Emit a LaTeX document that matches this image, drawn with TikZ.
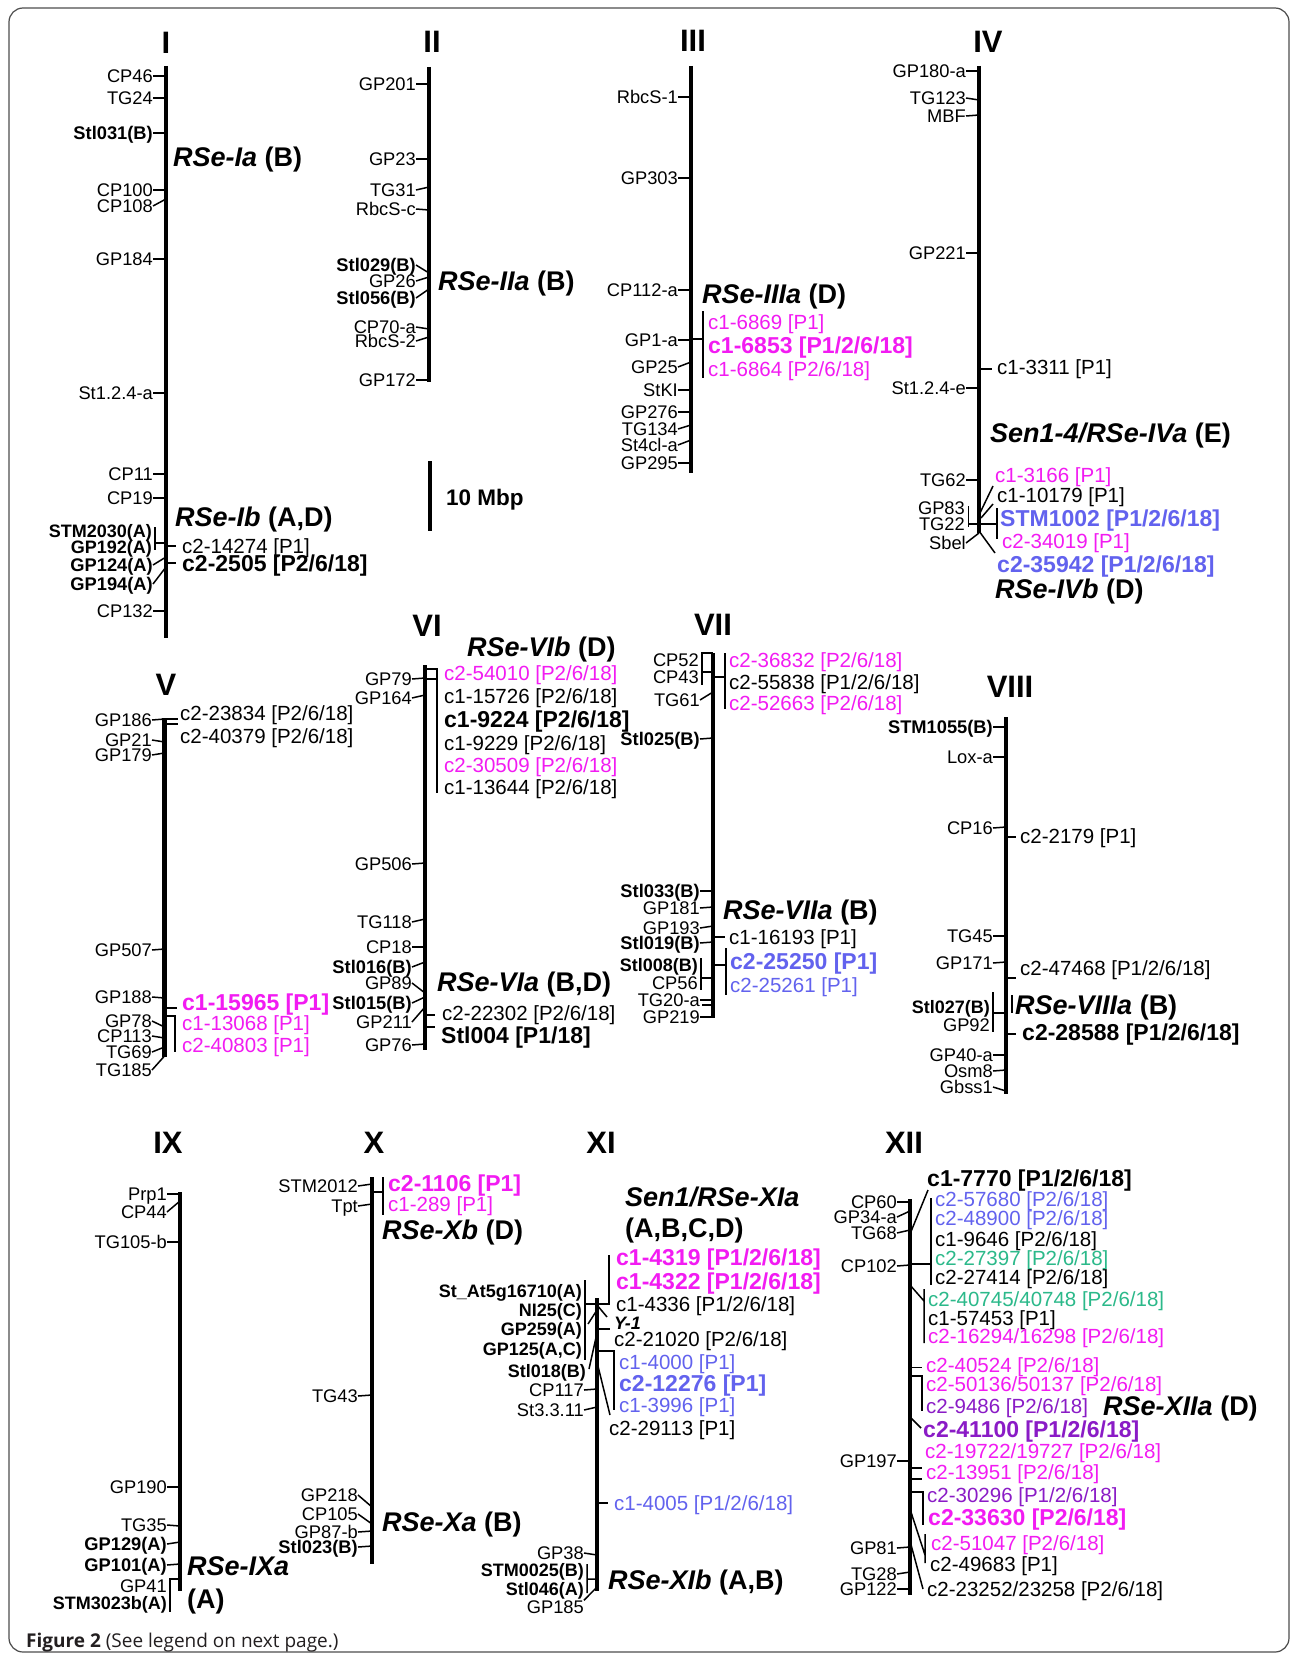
\documentclass[tikz,border=0pt]{standalone}
\usepackage{fontspec}
\setmainfont{Liberation Sans}
\newfontfamily\capfont{Open Sans}
\usepackage{xcolor}
\usepackage{tikz}
\definecolor{mkMag}{HTML}{F21BF2}
\definecolor{mkBlue}{HTML}{6262EE}
\definecolor{mkGreen}{HTML}{2BB98A}
\definecolor{mkPurple}{HTML}{8A1BC6}
\definecolor{frameGray}{HTML}{4D4D4D}
\definecolor{capGray}{HTML}{231F20}
\tikzset{
  chrom/.style={line width=4.2pt},
  tk/.style={line width=1.5pt},
  lm/.style={anchor=east, inner sep=0pt, font=\fontsize{18.3}{18.3}\selectfont, text height=13.1pt, text depth=0pt},
  lmb/.style={lm, font=\fontsize{18}{18}\selectfont\bfseries},
  rm/.style={anchor=west, inner sep=0pt, font=\fontsize{20.5}{20.5}\selectfont, text height=14.7pt, text depth=0pt},
  rb/.style={rm, font=\fontsize{23}{23}\selectfont\bfseries, text height=16.5pt},
  qtl/.style={anchor=west, inner sep=0pt, font=\fontsize{27}{27}\selectfont\bfseries, text height=19.3pt, text depth=0pt},
  chrname/.style={inner sep=0pt, font=\fontsize{31}{31}\selectfont\bfseries, text height=22.2pt, text depth=0pt},
  mag/.style={text=mkMag}, blu/.style={text=mkBlue}, grn/.style={text=mkGreen}, pur/.style={text=mkPurple},
}
\begin{document}
\begin{tikzpicture}[x=1pt, y=-1pt,
  sbar/.style={anchor=west, inner sep=0pt, font=\fontsize{22.5}{22.5}\selectfont\bfseries, text height=16.1pt, text depth=0pt},
  capt/.style={anchor=west, inner sep=0pt, font=\capfont\fontsize{19}{19}\selectfont, text=capGray, text height=13.6pt, text depth=0pt}]
\useasboundingbox (0,0) rectangle (1295,1659);
\fill[white] (0,0) rectangle (1295,1659);
\draw[frameGray, line width=1.2pt, rounded corners=14pt] (9,8) rectangle (1289,1652);

% chromosome I
\coordinate (c1t) at (166,66); \coordinate (c1b) at (166,638);
\draw[chrom] (c1t) -- (c1b);
\node[chrname] (n1) at (166,42) {I};
\foreach \t/\ly/\ty [count=\i] in {CP46/76/76, TG24/98/98, {\bfseries Stl031(B)}/133/133,
  CP100/190/190, CP108/206/199, GP184/259/259, St1.2.4-a/393/393, CP11/474/474, CP19/498/498,
  {\bfseries GP124(A)}/565/557, {\bfseries GP194(A)}/584/567, CP132/611/611}
  {\node[lm] (c1m\i) at (153,\ly) {\t}; \draw[tk] (c1m\i.east) -- (c1t |- 0,\ty);}
\node[lmb] (c1s) at (152,531) {STM2030(A)};
\node[lmb] (c1g) at (152,547) {GP192(A)};
\draw[tk] (155,527) -- (155,550) (155,543) -- (c1t |- 0,543);
\node[qtl] (q1a) at (173,157) {\textit{RSe-Ia} (B)};
\node[qtl] (q1b) at (175,517) {\textit{RSe-Ib} (A,D)};
\node[rm] (r1a) at (182,546) {c2-14274 [P1]};
\node[rb] (r1b) at (182,563) {c2-2505 [P2/6/18]};
\foreach \n in {r1a,r1b} \draw[tk] (c1t |- \n.west) -- ++(10,0);

% chromosome II
\coordinate (c2t) at (429,67); \coordinate (c2b) at (429,382);
\draw[chrom] (c2t) -- (c2b);
\node[chrname] (n2) at (432,41) {II};
\foreach \t/\ly/\ty [count=\i] in {GP201/84/84, GP23/159/159, TG31/190/187, RbcS-c/209/210,
  {\bfseries Stl029(B)}/265/273, GP26/281/277, {\bfseries Stl056(B)}/298/289, CP70-a/327/329,
  RbcS-2/341/337, GP172/380/380}
  {\node[lm] (c2m\i) at (416,\ly) {\t}; \draw[tk] (c2m\i.east) -- (c2t |- 0,\ty);}
\node[qtl] (q2a) at (438,281) {\textit{RSe-IIa} (B)};
% scale bar
\coordinate (sb1) at (430,461); \coordinate (sb2) at (430,531);
\draw[chrom] (sb1) -- (sb2);
\node[sbar] (sbl) at (446,497) {10 Mbp};

% chromosome III
\coordinate (c3t) at (691,66); \coordinate (c3b) at (691,473);
\draw[chrom] (c3t) -- (c3b);
\node[chrname] (n3) at (693,40) {III};
\foreach \t/\ly/\ty [count=\i] in {RbcS-1/97/97, GP303/178/178, CP112-a/290/290, GP1-a/340/340,
  GP25/367/362, StKI/390/390, GP276/412/412, TG134/429/425, St4cl-a/445/440, GP295/463/463}
  {\node[lm] (c3m\i) at (678,\ly) {\t}; \draw[tk] (c3m\i.east) -- (c3t |- 0,\ty);}
\node[qtl] (q3a) at (702,294) {\textit{RSe-IIIa} (D)};
\draw[tk] (703,311) -- (703,378) (c3t |- 0,339) -- (703,339);
\node[rm, mag] (r3a) at (708,322) {c1-6869 [P1]};
\node[rb, mag] (r3b) at (708,345) {c1-6853 [P1/2/6/18]};
\node[rm, mag] (r3c) at (708,369) {c1-6864 [P2/6/18]};

% chromosome IV
\coordinate (c4t) at (979,66); \coordinate (c4b) at (979,533);
\draw[chrom] (c4t) -- (c4b);
\node[chrname] (n4) at (988,41) {IV};
\foreach \t/\ly/\ty [count=\i] in {GP180-a/71/71, TG123/98/100, MBF/116/115, GP221/253/253,
  St1.2.4-e/388/388, TG62/480/480, Sbel/543/533}
  {\node[lm] (c4m\i) at (966,\ly) {\t}; \draw[tk] (c4m\i.east) -- (c4t |- 0,\ty);}
\node[lm] (c4g) at (965,508) {GP83};
\node[lm] (c4h) at (965,524) {TG22};
\draw[tk] (968.5,506) -- (968.5,527) (968.5,524) -- (c4t |- 0,524);
\node[rm] (r4a) at (997,367) {c1-3311 [P1]};
\draw[tk] (c4t |- 0,369) -- (992,369);
\node[qtl] (q4a) at (990,433) {\textit{Sen1-4/RSe-IVa} (E)};
\node[rm, mag] (r4b) at (995,475) {c1-3166 [P1]};
\node[rm] (r4c) at (997,495) {c1-10179 [P1]};
\node[rb, blu] (r4d) at (1000,518) {STM1002 [P1/2/6/18]};
\node[rm, mag] (r4e) at (1002,541) {c2-34019 [P1]};
\node[rb, blu] (r4f) at (997,564) {c2-35942 [P1/2/6/18]};
\node[qtl] (q4b) at (995,589) {\textit{RSe-IVb} (D)};
\draw[tk] (c4t |- 0,515) -- (993,486) (981,518) -- (993,504);
\draw[tk] (c4t |- 0,524) -- (997,524) (997,508) -- (997,539);
\draw[tk] (c4t |- 0,531) -- (995,553);

% chromosome V
\coordinate (c5t) at (164.5,718); \coordinate (c5b) at (164.5,1057);
\draw[chrom] (c5t) -- (c5b);
\node[chrname] (n5) at (166,684) {V};
\foreach \t/\ly/\ty [count=\i] in {GP186/720/719, GP21/740/742, GP179/755/753, GP507/950/949,
  GP188/997/998, GP78/1021/1027, CP113/1036/1038, TG69/1052/1047, TG185/1070/1056}
  {\node[lm] (c5m\i) at (152,\ly) {\t}; \draw[tk] (c5m\i.east) -- (c5t |- 0,\ty);}
\draw[tk] (c5t |- 0,719) -- ++(13,0) (c5t |- 0,724) -- ++(13,0);
\node[rm] (r5a) at (180,713) {c2-23834 [P2/6/18]};
\node[rm] (r5b) at (180,736) {c2-40379 [P2/6/18]};
\node[rb, mag] (r5c) at (182,1002) {c1-15965 [P1]};
\draw[tk] (c5t |- 0,1008) -- ++(12,0);
\draw[tk] (c5t |- 0,1016) -- (175,1016) -- (175,1052);
\node[rm, mag] (r5d) at (182,1023) {c1-13068 [P1]};
\node[rm, mag] (r5e) at (182,1045) {c2-40803 [P1]};

% chromosome VI
\coordinate (c6t) at (425,665); \coordinate (c6b) at (425,1050);
\draw[chrom] (c6t) -- (c6b);
\node[chrname] (n6) at (427,625) {VI};
\foreach \t/\ly/\ty [count=\i] in {GP79/679/678, GP164/698/695, GP506/864/863, TG118/922/919,
  CP18/947/947, {\bfseries Stl016(B)}/967/962, GP89/983/993, {\bfseries Stl015(B)}/1003/997,
  GP211/1022/1007, GP76/1045/1044}
  {\node[lm] (c6m\i) at (412,\ly) {\t}; \draw[tk] (c6m\i.east) -- (c6t |- 0,\ty);}
\node[qtl] (q6b) at (467,647) {\textit{RSe-VIb} (D)};
\draw[tk] (c6t |- 0,669) -- (437,669) -- (437,793) (c6t |- 0,679) -- (437,679);
\node[rm, mag] (r6a) at (444,673) {c2-54010 [P2/6/18]};
\node[rm] (r6b) at (444,696) {c1-15726 [P2/6/18]};
\node[rb] (r6c) at (444,719) {c1-9224 [P2/6/18]};
\node[rm] (r6d) at (444,743) {c1-9229 [P2/6/18]};
\node[rm, mag] (r6e) at (444,765) {c2-30509 [P2/6/18]};
\node[rm] (r6f) at (444,787) {c1-13644 [P2/6/18]};
\node[qtl] (q6a) at (437,982) {\textit{RSe-VIa} (B,D)};
\node[rm] (r6g) at (442,1013) {c2-22302 [P2/6/18]};
\draw[tk] (c6t |- 0,1015) -- ++(10,0);
\node[rb] (r6h) at (441,1035) {Stl004 [P1/18]};
\draw[tk] (c6t |- 0,1027) -- ++(10,0);

% chromosome VII
\coordinate (c7t) at (713,653); \coordinate (c7b) at (713,1018);
\draw[chrom] (c7t) -- (c7b);
\node[chrname] (n7) at (713,624) {VII};
\foreach \t/\ly/\ty [count=\i] in {TG61/700/692, {\bfseries Stl025(B)}/739/738,
  {\bfseries Stl033(B)}/891/891, GP181/908/907, GP193/928/926, {\bfseries Stl019(B)}/943/942,
  TG20-a/1000/1000, GP219/1017/1017}
  {\node[lm] (c7m\i) at (700,\ly) {\t}; \draw[tk] (c7m\i.east) -- (c7t |- 0,\ty);}
\node[lm] (c7p) at (699,660) {CP52};
\node[lm] (c7q) at (699,677) {CP43};
\draw[tk] (c7t) -- (702,653) -- (702,685) (702,672) -- (c7t |- 0,672);
\node[lmb] (c7r) at (698,965) {Stl008(B)};
\node[lm] (c7s) at (698,983) {CP56};
\draw[tk] (701,958) -- (701,990) (701,978) -- (c7t |- 0,978) (702,1005) -- (c7t |- 0,1005);
\draw[tk] (725,653) -- (725,709) (c7t |- 0,677) -- (725,677);
\node[rm, mag] (r7a) at (729,660) {c2-36832 [P2/6/18]};
\node[rm] (r7b) at (729,682) {c2-55838 [P1/2/6/18]};
\node[rm, mag] (r7c) at (729,703) {c2-52663 [P2/6/18]};
\node[qtl] (q7a) at (723,910) {\textit{RSe-VIIa} (B)};
\node[rm] (r7d) at (729,937) {c1-16193 [P1]};
\draw[tk] (c7t |- 0,937) -- ++(12,0);
\draw[tk] (726,948) -- (726,995) (c7t |- 0,965) -- (726,965);
\node[rb, blu] (r7e) at (730,961) {c2-25250 [P1]};
\node[rm, blu] (r7f) at (730,985) {c2-25261 [P1]};

% chromosome VIII
\coordinate (c8t) at (1006,717); \coordinate (c8b) at (1006,1094);
\draw[chrom] (c8t) -- (c8b);
\node[chrname] (n8) at (1010,686) {VIII};
\foreach \t/\ly/\ty [count=\i] in {{\bfseries STM1055(B)}/727/727, Lox-a/757/757, CP16/828/827,
  TG45/936/936, GP171/963/962, GP40-a/1055/1055, Osm8/1071/1070, Gbss1/1087/1091}
  {\node[lm] (c8m\i) at (993,\ly) {\t}; \draw[tk] (c8m\i.east) -- (c8t |- 0,\ty);}
\node[lmb] (c8p) at (990,1007) {Stl027(B)};
\node[lm] (c8q) at (990,1025) {GP92};
\draw[tk] (993,992) -- (993,1032) (993,1013) -- (c8t |- 0,1013);
\draw[tk] (1012,995) -- (1012,1013);
\node[rm] (r8a) at (1020,836) {c2-2179 [P1]};
\draw[tk] (c8t |- 0,837) -- ++(10,0);
\node[rm] (r8b) at (1020,968) {c2-47468 [P1/2/6/18]};
\draw[tk] (c8t |- 0,978) -- ++(10,0);
\node[qtl] (q8a) at (1015,1005) {\textit{RSe-VIIIa} (B)};
\node[rb] (r8c) at (1022,1032) {c2-28588 [P1/2/6/18]};
\draw[tk] (c8t |- 0,1034) -- ++(10,0);

% chromosome IX
\coordinate (c9t) at (180,1192); \coordinate (c9b) at (180,1591);
\draw[chrom] (c9t) -- (c9b);
\node[chrname] (n9) at (168,1142) {IX};
\foreach \t/\ly/\ty [count=\i] in {Prp1/1194/1194, CP44/1212/1201, TG105-b/1242/1242,
  GP190/1487/1487, TG35/1525/1526, {\bfseries GP129(A)}/1544/1542, {\bfseries GP101(A)}/1565/1564}
  {\node[lm] (c9m\i) at (167,\ly) {\t}; \draw[tk] (c9m\i.east) -- (c9t |- 0,\ty);}
\node[lm] (c9p) at (167,1586) {GP41};
\node[lmb] (c9q) at (167,1603) {STM3023b(A)};
\draw[tk] (c9t |- 0,1579) -- (170,1579) -- (170,1612);
\node[qtl] (q9a) at (187,1566) {\textit{RSe-IXa}};
\node[qtl] (q9b) at (187,1599) {(A)};

% chromosome X
\coordinate (c10t) at (372,1177); \coordinate (c10b) at (372,1564);
\draw[chrom] (c10t) -- (c10b);
\node[chrname] (n10) at (374,1142) {X};
\foreach \t/\ly/\ty [count=\i] in {STM2012/1186/1184, Tpt/1206/1204, TG43/1396/1395,
  GP218/1495/1507, CP105/1514/1524, GP87-b/1532/1531, {\bfseries Stl023(B)}/1547/1546}
  {\node[lm] (c10m\i) at (358,\ly) {\t}; \draw[tk] (c10m\i.east) -- (c10t |- 0,\ty);}
\draw[tk] (383,1177) -- (383,1215) (c10t |- 0,1192) -- (383,1192);
\node[rb, mag] (r10a) at (388,1183) {c2-1106 [P1]};
\node[rm, mag] (r10b) at (388,1204) {c1-289 [P1]};
\node[qtl] (q10b) at (382,1230) {\textit{RSe-Xb} (D)};
\node[qtl] (q10a) at (382,1522) {\textit{RSe-Xa} (B)};

% chromosome XI
\coordinate (c11t) at (597,1298); \coordinate (c11b) at (597,1591);
\draw[chrom] (c11t) -- (c11b);
\node[chrname] (n11) at (601,1142) {XI};
\foreach \t/\ly [count=\i] in {St\_At5g16710(A)/1291, NI25(C)/1310, GP259(A)/1329, {GP125(A,C)}/1349}
  {\node[lmb] (c11g\i) at (582,\ly) {\t};}
\node[lmb] (c11s) at (586,1371) {Stl018(B)};
\draw[tk] (585,1280) -- (585,1360) (585,1304) -- (c11t |- 0,1304);
\draw[tk] (588,1324) -- (c11t |- 0,1310) (589,1369) -- (c11t |- 0,1333);
\foreach \t/\ly/\ty [count=\i] in {CP117/1390/1389, St3.3.11/1410/1407, GP38/1553/1555}
  {\node[lm] (c11m\i) at (584,\ly) {\t}; \draw[tk] (c11m\i.east) -- (c11t |- 0,\ty);}
\node[lmb] (c11p) at (584,1570) {STM0025(B)};
\node[lmb] (c11q) at (584,1589) {Stl046(A)};
\node[lm] (c11r) at (584,1607) {GP185};
\draw[tk] (587,1564) -- (587,1593) (587,1579) -- (c11t |- 0,1579) (c11r.north east) -- (c11t |- 0,1587);
\node[qtl] (q11a) at (625,1197) {\textit{Sen1/RSe-XIa}};
\node[qtl] (q11b) at (625,1228) {(A,B,C,D)};
\draw[tk] (609,1255) -- (609,1305) (c11t |- 0,1304) -- (609,1304);
\node[rb, mag] (r11a) at (616,1257) {c1-4319 [P1/2/6/18]};
\node[rb, mag] (r11b) at (616,1281) {c1-4322 [P1/2/6/18]};
\node[rm] (r11c) at (616,1304) {c1-4336 [P1/2/6/18]};
\node[rm, font=\fontsize{18}{18}\selectfont\bfseries\itshape] (r11y) at (614,1322) {Y-1};
\draw[tk] (c11t |- 0,1305) -- (607,1317);
\node[rm] (r11d) at (614,1339) {c2-21020 [P2/6/18]};
\draw[tk] (c11t |- 0,1329) -- (610,1329);
\draw[tk] (c11t |- 0,1351) -- (614,1351) -- (614,1410);
\node[rm, blu] (r11e) at (619,1362) {c1-4000 [P1]};
\node[rb, blu] (r11f) at (619,1383) {c2-12276 [P1]};
\node[rm, blu] (r11g) at (619,1405) {c1-3996 [P1]};
\draw[tk] (c11t |- 0,1362) -- (610,1415);
\node[rm] (r11h) at (609,1428) {c2-29113 [P1]};
\node[rm, blu] (r11i) at (614,1503) {c1-4005 [P1/2/6/18]};
\draw[tk] (c11t |- 0,1503) -- (608,1503);
\node[qtl] (q11c) at (608,1580) {\textit{RSe-XIb} (A,B)};

% chromosome XII
\coordinate (c12t) at (910,1199); \coordinate (c12b) at (910,1595);
\draw[chrom] (c12t) -- (c12b);
\node[chrname] (n12) at (904,1142) {XII};
\foreach \t/\ly/\ty [count=\i] in {CP60/1202/1202, GP34-a/1217/1211, TG68/1233/1230, CP102/1266/1265,
  GP197/1461/1461, GP81/1548/1547, TG28/1574/1572, GP122/1589/1589}
  {\node[lm] (c12m\i) at (897,\ly) {\t}; \draw[tk] (c12m\i.east) -- (c12t |- 0,\ty);}
\node[rb] (r12a) at (927,1178) {c1-7770 [P1/2/6/18]};
\draw[tk] (c12t |- 0,1234) -- (928,1190);
\draw[tk] (931,1198) -- (931,1285) (c12t |- 0,1264) -- (931,1264);
\node[rm, blu] (r12b) at (935,1199) {c2-57680 [P2/6/18]};
\node[rm, blu] (r12c) at (935,1218.5) {c2-48900 [P2/6/18]};
\node[rm] (r12d) at (935,1239) {c1-9646 [P2/6/18]};
\node[rm, grn] (r12e) at (935,1258) {c2-27397 [P2/6/18]};
\node[rm] (r12f) at (935,1277) {c2-27414 [P2/6/18]};
\draw[tk] (c12t |- 0,1285) -- (924,1301) (924,1289) -- (924,1343);
\node[rm, grn] (r12g) at (928,1299) {c2-40745/40748 [P2/6/18]};
\node[rm] (r12h) at (928,1318) {c1-57453 [P1]};
\node[rm, mag] (r12i) at (928,1336) {c2-16294/16298 [P2/6/18]};
\node[rm, mag] (r12j) at (926,1365) {c2-40524 [P2/6/18]};
\draw[tk] (c12t |- 0,1367.5) -- (922,1367.5);
\draw[tk] (c12t |- 0,1376) -- (922,1376) -- (922,1411);
\node[rm, mag] (r12k) at (926,1384) {c2-50136/50137 [P2/6/18]};
\node[rm, pur] (r12l) at (926,1406) {c2-9486 [P2/6/18]};
\node[qtl] (q12a) at (1103,1406) {\textit{RSe-XIIa} (D)};
\draw[tk] (c12t |- 0,1417) -- (921,1428);
\node[rb, pur] (r12m) at (923,1429) {c2-41100 [P1/2/6/18]};
\node[rm, mag] (r12n) at (925,1451.5) {c2-19722/19727 [P2/6/18]};
\draw[tk] (c12t |- 0,1468) -- (922,1468) (c12t |- 0,1479) -- (922,1479);
\node[rm, mag] (r12o) at (926,1472.5) {c2-13951 [P2/6/18]};
\draw[tk] (c12t |- 0,1492) -- (923,1492) -- (923,1525);
\node[rm, pur] (r12p) at (927,1495) {c2-30296 [P1/2/6/18]};
\node[rb, mag] (r12q) at (928,1517) {c2-33630 [P2/6/18]};
\draw[tk] (c12t |- 0,1509) -- (925,1555) (925,1534) -- (925,1563) (c12t |- 0,1541) -- (923,1589);
\node[rm, mag] (r12r) at (931,1543) {c2-51047 [P2/6/18]};
\node[rm] (r12s) at (930,1564) {c2-49683 [P1]};
\node[rm] (r12t) at (927,1589) {c2-23252/23258 [P2/6/18]};

% caption
\node[capt] (cap) at (26,1641) {\textbf{Figure 2} (See legend on next page.)};
\end{tikzpicture}
\end{document}
